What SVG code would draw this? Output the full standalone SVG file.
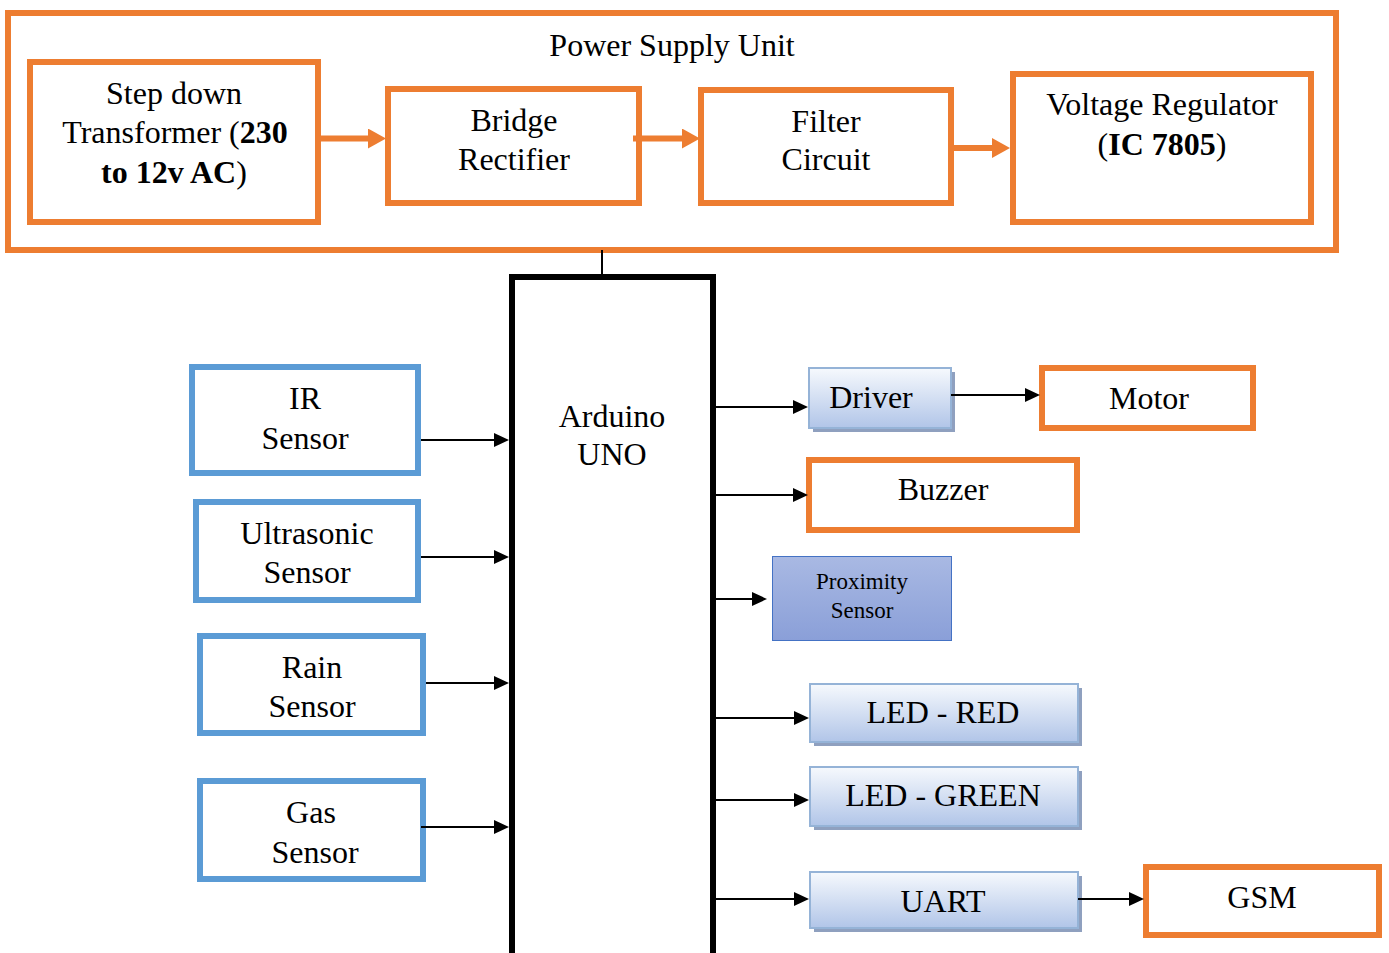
<svg xmlns="http://www.w3.org/2000/svg" width="1389" height="953" viewBox="0 0 1389 953">
<defs>
<style>
text{font-family:"Liberation Serif","Times New Roman",serif;font-size:32px;fill:#000;text-anchor:middle}
.b{font-weight:bold}
.o{fill:#fff;stroke:#ED7D31;stroke-width:6}
.bl{fill:#fff;stroke:#5B9BD5;stroke-width:6}
.g{fill:url(#gr);stroke:#95B3D7;stroke-width:2}
.sh{fill:#8FA0BF}
.oa{stroke:#ED7D31;stroke-width:6;fill:none;marker-end:url(#oh)}
.ka{stroke:#000;stroke-width:2;fill:none;marker-end:url(#kh)}
</style>
<linearGradient id="gr" x1="0" y1="0" x2="0" y2="1">
<stop offset="0" stop-color="#F6F9FD"/>
<stop offset="1" stop-color="#B1C5E8"/>
</linearGradient>
<linearGradient id="pg" x1="0" y1="0" x2="0" y2="1">
<stop offset="0" stop-color="#A9B9E3"/>
<stop offset="1" stop-color="#8A9FD8"/>
</linearGradient>
<marker id="oh" markerUnits="userSpaceOnUse" markerWidth="18" markerHeight="20" refX="0" refY="10" orient="auto">
<path d="M0,0 L18,10 L0,20 z" fill="#ED7D31"/>
</marker>
<marker id="kh" markerUnits="userSpaceOnUse" markerWidth="15" markerHeight="14" refX="0" refY="7" orient="auto">
<path d="M0,0 L15,7 L0,14 z" fill="#000"/>
</marker>
</defs>
<rect width="1389" height="953" fill="#fff"/>

<g id="psu">
<rect x="8" y="13" width="1328" height="237" class="o"/>
<text x="672" y="56">Power Supply Unit</text>
</g>
<g id="transformer">
<rect x="30" y="62" width="288" height="160" class="o"/>
<text x="174" y="104">Step down</text>
<text x="175" y="143">Transformer (<tspan class="b">230</tspan></text>
<text x="174" y="183"><tspan class="b">to 12v AC</tspan>)</text>
</g>
<g id="bridge">
<rect x="388" y="89" width="251" height="114" class="o"/>
<text x="514" y="131">Bridge</text>
<text x="514" y="170">Rectifier</text>
</g>
<g id="filter">
<rect x="701" y="90" width="250" height="113" class="o"/>
<text x="826" y="132">Filter</text>
<text x="826" y="170">Circuit</text>
</g>
<g id="regulator">
<rect x="1013" y="74" width="298" height="148" class="o"/>
<text x="1162" y="115">Voltage Regulator</text>
<text x="1162" y="155">(<tspan class="b">IC 7805</tspan>)</text>
</g>

<g id="arduino">
<path d="M512,960 V277 H713 V960" fill="#fff" stroke="#000" stroke-width="6"/>
<text x="612" y="427">Arduino</text>
<text x="612" y="465">UNO</text>
</g>

<g id="ir">
<rect x="192" y="367" width="226" height="106" class="bl"/>
<text x="305" y="409">IR</text>
<text x="305" y="449">Sensor</text>
</g>
<g id="ultrasonic">
<rect x="196" y="502" width="222" height="98" class="bl"/>
<text x="307" y="544">Ultrasonic</text>
<text x="307" y="583">Sensor</text>
</g>
<g id="rain">
<rect x="200" y="636" width="223" height="97" class="bl"/>
<text x="312" y="678">Rain</text>
<text x="312" y="717">Sensor</text>
</g>
<g id="gas">
<rect x="200" y="781" width="223" height="98" class="bl"/>
<text x="311" y="823">Gas</text>
<text x="315" y="863">Sensor</text>
</g>

<g id="driver">
<rect x="813" y="372" width="142" height="60" class="sh"/>
<rect x="809" y="368" width="142" height="60" class="g"/>
<text x="871" y="408">Driver</text>
</g>
<g id="motor">
<rect x="1042" y="368" width="211" height="60" class="o"/>
<text x="1149" y="409">Motor</text>
</g>
<g id="buzzer">
<rect x="809" y="460" width="268" height="70" class="o"/>
<text x="943" y="500">Buzzer</text>
</g>
<g id="proximity">
<rect x="772.5" y="556.5" width="179" height="84" fill="url(#pg)" stroke="#4472C4" stroke-width="1"/>
<text x="862" y="589" style="font-size:23px">Proximity</text>
<text x="862" y="618" style="font-size:23px">Sensor</text>
</g>
<g id="ledred">
<rect x="814" y="688" width="268" height="58" class="sh"/>
<rect x="810" y="684" width="268" height="58" class="g"/>
<text x="943" y="723">LED - RED</text>
</g>
<g id="ledgreen">
<rect x="814" y="771" width="268" height="59" class="sh"/>
<rect x="810" y="767" width="268" height="59" class="g"/>
<text x="943" y="806">LED - GREEN</text>
</g>
<g id="uart">
<rect x="814" y="876" width="268" height="56" class="sh"/>
<rect x="810" y="872" width="268" height="56" class="g"/>
<text x="943" y="912">UART</text>
</g>
<g id="gsm">
<rect x="1146" y="867" width="233" height="68" class="o"/>
<text x="1262" y="908">GSM</text>
</g>

<g id="connectors">
<line x1="319" y1="138.5" x2="368" y2="138.5" class="oa"/>
<line x1="633" y1="138.5" x2="682" y2="138.5" class="oa"/>
<line x1="951" y1="148" x2="992" y2="148" class="oa"/>
<line x1="602" y1="250" x2="602" y2="275" stroke="#000" stroke-width="2"/>
<line x1="421" y1="440" x2="494" y2="440" class="ka"/>
<line x1="421" y1="557" x2="494" y2="557" class="ka"/>
<line x1="426" y1="683" x2="494" y2="683" class="ka"/>
<line x1="421" y1="827" x2="494" y2="827" class="ka"/>
<line x1="715" y1="407" x2="793" y2="407" class="ka"/>
<line x1="951" y1="395" x2="1025" y2="395" class="ka"/>
<line x1="715" y1="495" x2="793" y2="495" class="ka"/>
<line x1="715" y1="599" x2="752" y2="599" class="ka"/>
<line x1="715" y1="718" x2="794" y2="718" class="ka"/>
<line x1="715" y1="800" x2="794" y2="800" class="ka"/>
<line x1="715" y1="899" x2="794" y2="899" class="ka"/>
<line x1="1078" y1="899" x2="1129" y2="899" class="ka"/>
</g>
</svg>
